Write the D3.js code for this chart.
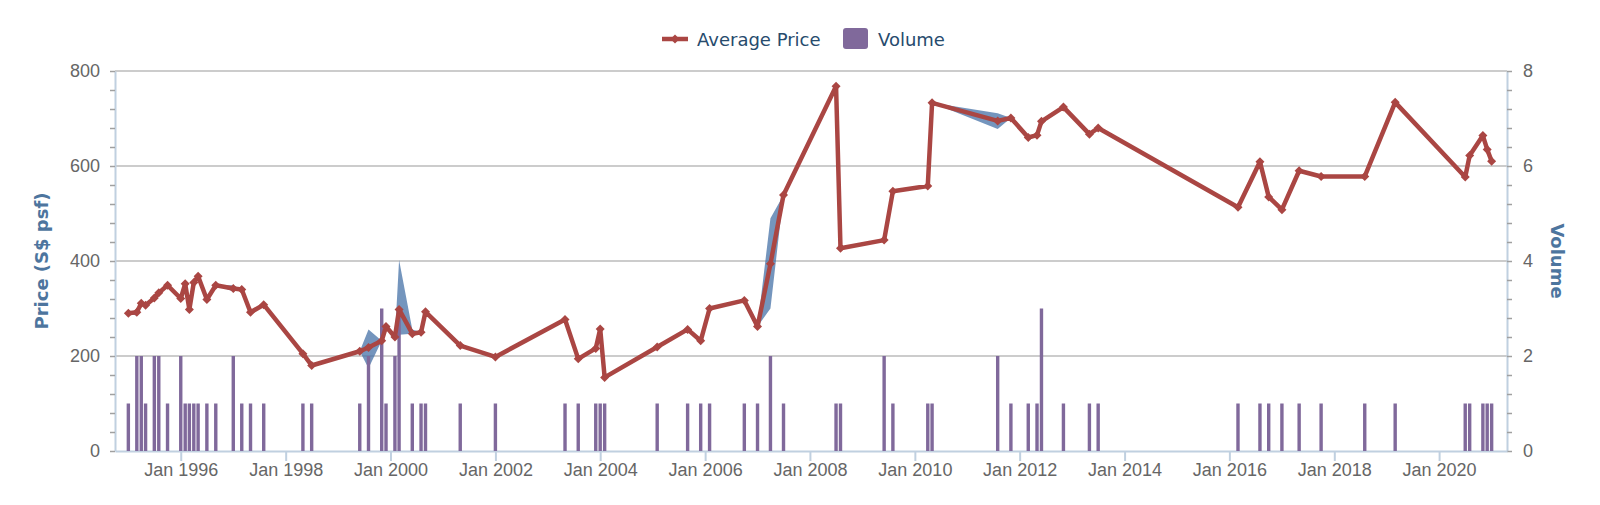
<!DOCTYPE html>
<html>
<head>
<meta charset="utf-8">
<script src="https://cdn.jsdelivr.net/npm/d3@7"></script>
<style>
  body{margin:0;background:#fff;}
  svg{display:block;font-family:"DejaVu Sans",Verdana,sans-serif;}
</style>
</head>
<body>
<svg id="chart" width="1600" height="505"></svg>
<script>
// monthly records
const months=["1995-01","1995-03","1995-04","1995-05","1995-07","1995-08","1995-10",
  "1996-01","1996-02","1996-03","1996-04","1996-05","1996-07","1996-09",
  "1997-01","1997-03","1997-05","1997-08","1998-05","1998-07",
  "1999-06","1999-08","1999-11","1999-12","2000-02","2000-03","2000-06","2000-08","2000-09",
  "2001-05","2002-01","2003-05","2003-08","2003-12","2004-01","2004-02",
  "2005-02","2005-09","2005-12","2006-02","2006-10","2007-01","2007-04","2007-07",
  "2008-07","2008-08","2009-06","2009-08","2010-04","2010-05",
  "2011-08","2011-11","2012-03","2012-05","2012-06","2012-11","2013-05","2013-07",
  "2016-03","2016-08","2016-10","2017-01","2017-05","2017-10","2018-08","2019-03",
  "2020-07","2020-08","2020-11","2020-12","2021-01"];
const avgPrice=[290,292,311,307,322,333,349,
  321,352,298,355,368,319,349,
  342,340,292,308,205,180,
  210,218,232,262,240,298,247,250,293,
  222,198,277,194,216,257,155,
  219,256,232,300,317,262,394,539,
  768,427,444,547,558,733,
  695,701,660,665,694,724,667,680,
  513,609,535,508,590,578,578,734,
  577,622,664,635,610];
const minPrice=[290,285,311,307,322,333,349,
  321,352,298,355,368,319,349,
  336,340,292,308,205,180,
  210,174,232,262,240,245,247,250,293,
  222,198,277,194,216,257,155,
  219,256,232,300,317,262,300,539,
  768,427,444,547,558,733,
  678,701,660,665,694,724,667,680,
  513,609,535,508,590,578,578,734,
  577,622,664,635,610];
const maxPrice=[290,293,311,307,322,333,349,
  321,352,298,355,368,319,349,
  349,340,292,308,205,180,
  210,256,232,262,240,402,256,250,293,
  222,198,277,194,216,257,155,
  219,256,232,300,317,262,490,539,
  768,427,444,547,558,733,
  711,701,660,665,694,724,667,680,
  513,609,535,508,590,578,578,734,
  577,622,664,635,610];
const volume=[1,2,2,1,2,2,1,
  2,1,1,1,1,1,1,
  2,1,1,1,1,1,
  1,2,3,1,2,3,1,1,1,
  1,1,1,1,1,1,1,
  1,1,1,1,1,1,2,1,
  1,1,2,1,1,1,
  2,1,1,1,3,1,1,1,
  1,1,1,1,1,1,1,1,
  1,1,1,1,1];
const priceTicks=[0,200,400,600,800];
const volumeTicks=[0,2,4,6,8];

const parseMonth=d3.timeParse("%Y-%m");
const rows=months.map((m,i)=>({
  date:parseMonth(m),price:avgPrice[i],low:minPrice[i],high:maxPrice[i],vol:volume[i]
}));

const svg=d3.select("#chart");
const plotL=115,plotR=1507,plotT=71,plotB=451;

const x=d3.scaleTime()
  .domain([new Date(1994,8,30),new Date(2021,3,18)])
  .range([plotL,plotR]);
const yPrice=d3.scaleLinear().domain([0,800]).range([plotB,plotT]);
const yVol=d3.scaleLinear().domain([0,8]).range([plotB,plotT]);

// grid lines
svg.append("g").selectAll("line")
  .data(priceTicks.filter(d=>d>0))
  .join("line")
  .attr("x1",plotL).attr("x2",plotR)
  .attr("y1",d=>yPrice(d)).attr("y2",d=>yPrice(d))
  .attr("stroke","#cccccc").attr("stroke-width",2);

// left axis (minor ticks every 40)
const minorP=d3.range(0,21).map(i=>i*40);
const axL=svg.append("g").attr("transform",`translate(${plotL},0)`)
  .call(d3.axisLeft(yPrice).tickValues(minorP).tickSize(5).tickSizeOuter(0).tickPadding(10)
    .tickFormat(d=>priceTicks.includes(d)?d:""));
axL.select(".domain").attr("stroke","#C0D0E0").attr("stroke-width",2);
axL.selectAll(".tick line").attr("stroke","#A0A0A0").attr("stroke-width",1.5);
axL.selectAll("text").attr("fill","#666").style("font-size","18px");

// right axis
const minorV=d3.range(0,21).map(i=>+(i*0.4).toFixed(1));
const axR=svg.append("g").attr("transform",`translate(${plotR},0)`)
  .call(d3.axisRight(yVol).tickValues(minorV).tickSize(5).tickSizeOuter(0).tickPadding(11)
    .tickFormat(d=>volumeTicks.includes(d)?d:""));
axR.select(".domain").attr("stroke","#C0D0E0").attr("stroke-width",2);
axR.selectAll(".tick line").attr("stroke","#A0A0A0").attr("stroke-width",1.5);
axR.selectAll("text").attr("fill","#666").style("font-size","18px");

// x axis
const axX=svg.append("g").attr("transform",`translate(0,${plotB})`)
  .call(d3.axisBottom(x).ticks(d3.timeYear.every(2)).tickFormat(d3.timeFormat("Jan %Y"))
    .tickSize(10).tickSizeOuter(0).tickPadding(2));
axX.select(".domain").attr("stroke","#C0D0E0").attr("stroke-width",2);
axX.selectAll(".tick line").attr("stroke","#C0D0E0").attr("stroke-width",2);
axX.selectAll("text").attr("fill","#666").style("font-size","18px");

// axis titles
svg.append("text")
  .attr("transform",`translate(42,${(plotT+plotB)/2}) rotate(-90)`)
  .attr("text-anchor","middle").attr("dy","0.35em")
  .attr("fill","#4d759e").style("font-size","18px").style("font-weight","bold")
  .text("Price (S$ psf)");
svg.append("text")
  .attr("transform",`translate(1557,${(plotT+plotB)/2}) rotate(90)`)
  .attr("text-anchor","middle").attr("dy","0.35em")
  .attr("fill","#4d759e").style("font-size","18px").style("font-weight","bold")
  .text("Volume");

// price range band
svg.append("path").datum(rows)
  .attr("d",d3.area().x(d=>x(d.date)).y0(d=>yPrice(d.low)).y1(d=>yPrice(d.high)))
  .attr("fill","#4572A7").attr("fill-opacity",0.75);

// volume bars
const barW=3.4;
svg.append("g").selectAll("rect")
  .data(rows)
  .join("rect")
  .attr("x",d=>x(d.date)-barW/2)
  .attr("width",barW)
  .attr("y",d=>yVol(d.vol))
  .attr("height",d=>yVol(0)-yVol(d.vol))
  .attr("fill","#80699B");

// average price line + diamond markers
svg.append("path").datum(rows)
  .attr("d",d3.line().x(d=>x(d.date)).y(d=>yPrice(d.price)))
  .attr("fill","none").attr("stroke","#AA4643").attr("stroke-width",4.5)
  .attr("stroke-linejoin","round");

const diamond=(cx,cy,r)=>`M${cx},${cy-r}L${cx+r},${cy}L${cx},${cy+r}L${cx-r},${cy}Z`;
svg.append("g").selectAll("path")
  .data(rows)
  .join("path")
  .attr("d",d=>diamond(x(d.date),yPrice(d.price),4.5))
  .attr("fill","#AA4643");

// legend
const lg=svg.append("g");
lg.append("line").attr("x1",662).attr("x2",688).attr("y1",39).attr("y2",39)
  .attr("stroke","#AA4643").attr("stroke-width",4.5);
lg.append("path").attr("d",diamond(675,39,4.5)).attr("fill","#AA4643");
lg.append("text").attr("x",697).attr("y",46).attr("fill","#274b6d")
  .style("font-size","18px").text("Average Price");
lg.append("rect").attr("x",843).attr("y",28).attr("width",25).attr("height",21).attr("rx",3)
  .attr("fill","#80699B");
lg.append("text").attr("x",878).attr("y",46).attr("fill","#274b6d")
  .style("font-size","18px").text("Volume");
</script>
</body>
</html>
